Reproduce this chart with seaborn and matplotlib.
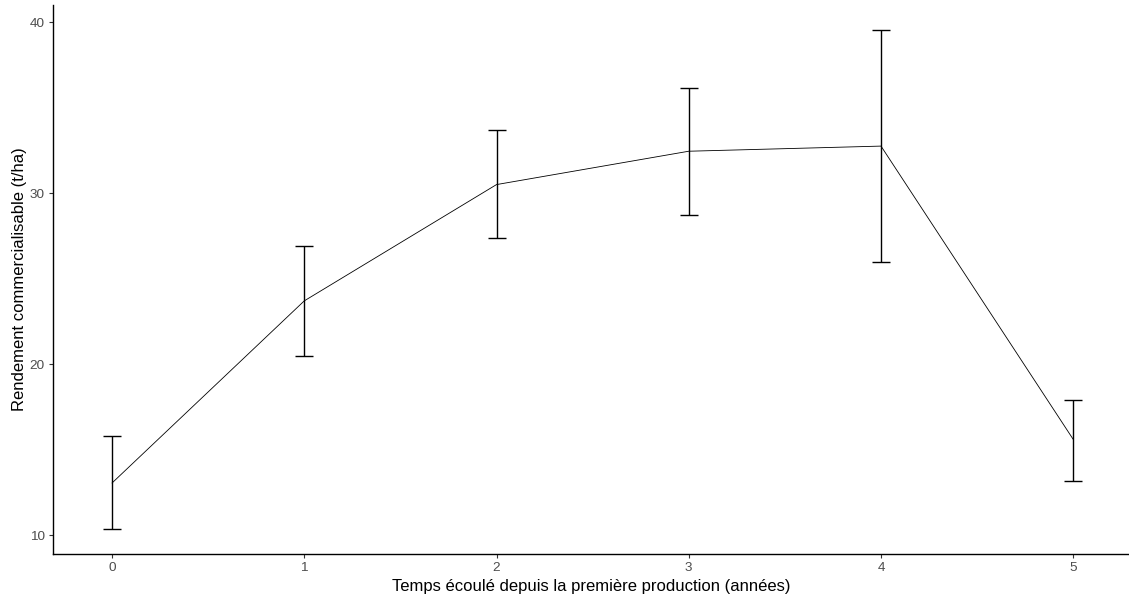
import pandas as pd
import seaborn as sns
import matplotlib.pyplot as plt

years = [0, 1, 2, 3, 4, 5]
yield_mean = [13.05, 23.7, 30.5, 32.45, 32.75, 15.6]
yield_low = [10.35, 20.5, 27.35, 28.75, 26.0, 13.15]
yield_high = [15.8, 26.9, 33.7, 36.15, 39.55, 17.9]

df = pd.DataFrame({'annee': years, 'rendement': yield_mean})

sns.set_style('white')
plt.rcParams['font.family'] = ['Liberation Sans', 'DejaVu Sans']

fig = plt.figure(figsize=(11.29, 6.03), dpi=100)
ax = fig.add_axes([53 / 1129, 1 - 554 / 603, 1076 / 1129, 549 / 603])

sns.lineplot(data=df, x='annee', y='rendement', color='black', linewidth=0.6, ax=ax)
err = [[m - lo for m, lo in zip(yield_mean, yield_low)],
       [hi - m for m, hi in zip(yield_mean, yield_high)]]
ax.errorbar(df['annee'], df['rendement'], yerr=err, fmt='none', ecolor='black',
            elinewidth=1.0, capsize=6.8, capthick=1.0)

ax.set_xlim(-0.307, 5.29)
ax.set_ylim(8.9, 41.0)
ax.set_xticks(years)
ax.set_yticks([10, 20, 30, 40])
ax.set_xlabel('Temps écoulé depuis la première production (années)', fontsize=12,
              color='black', labelpad=3)
ax.set_ylabel('Rendement commercialisable (t/ha)', fontsize=12, color='black', labelpad=2)
ax.tick_params(axis='both', labelsize=9.7, labelcolor='#4d4d4d', color='#333333',
               length=3, width=0.8, bottom=True, left=True, pad=3)
sns.despine(ax=ax)
ax.spines['left'].set_linewidth(1.0)
ax.spines['bottom'].set_linewidth(1.0)
ax.spines['left'].set_color('black')
ax.spines['bottom'].set_color('black')

fig.savefig('out.png', dpi=100)
